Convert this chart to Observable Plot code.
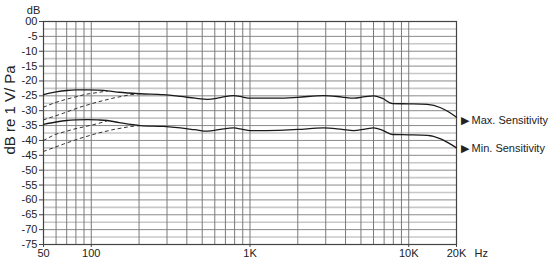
<!DOCTYPE html>
<html>
<head>
<meta charset="utf-8">
<script src="https://cdn.jsdelivr.net/npm/d3@7"></script>
<script src="https://cdn.jsdelivr.net/npm/@observablehq/plot@0.6"></script>
<style>
  html, body { margin: 0; padding: 0; background: #fff; }
  #chart svg { display: block; }
</style>
</head>
<body>
<div id="chart"></div>
<script>
// Frequencies (Hz) of the traced response points
const freqs = [50, 60, 70, 80, 95, 110, 126, 150, 204, 285, 365, 450, 540, 650, 787, 900, 1000, 1500, 2000, 2900, 3800, 4500, 5300, 6000, 6800, 7900, 10000, 13100, 15900, 18000, 20000];
// Max. sensitivity response (dB re 1 V/Pa)
const maxDb = [-24.6, -23.7, -23.2, -23.0, -23.0, -23.1, -23.3, -23.8, -24.3, -24.6, -25.2, -25.8, -26.2, -25.6, -24.9, -25.4, -25.8, -25.8, -25.5, -24.9, -25.4, -25.8, -25.3, -25.0, -25.8, -27.6, -27.7, -27.9, -29.0, -30.5, -32.2];
// Min. sensitivity response
const minDb = [-34.6, -33.8, -33.3, -33.1, -33.0, -33.1, -33.3, -34.0, -35.0, -35.3, -35.8, -36.4, -36.9, -36.3, -35.8, -36.3, -36.7, -36.6, -36.3, -35.8, -36.3, -36.7, -36.2, -35.8, -36.5, -38.0, -38.1, -38.3, -39.5, -41.0, -42.5];

// Low-cut (dashed) branches
const cut1Hz = [50, 59, 69, 92, 109, 126];
const cut1Db = [-28.8, -27.3, -26.2, -24.5, -23.9, -23.4];
const cut2Hz = [50, 67, 85, 109, 139, 177, 204];
const cut2Db = [-33.1, -30.8, -28.8, -27.1, -25.7, -24.6, -24.3];
const cut3Hz = [50, 59, 79, 109, 126];
const cut3Db = [-40.0, -38.0, -36.1, -34.4, -33.4];
const cut4Hz = [50, 67, 85, 109, 139, 177, 204];
const cut4Db = [-43.7, -41.2, -39.3, -37.6, -36.3, -35.3, -35.0];

// Axes
const xTickValues = [50, 100, 1000, 10000, 20000];
const xTickLabels = ["50", "100", "1K", "10K", "20K"];
const yTickValues = [0, -5, -10, -15, -20, -25, -30, -35, -40, -45, -50, -55, -60, -65, -70, -75];
const yTickLabels = ["00", "-5", "-10", "-15", "-20", "-25", "-30", "-35", "-40", "-45", "-50", "-55", "-60", "-65", "-70", "-75"];
const xGrid = [60, 70, 80, 90, 100, 200, 300, 400, 500, 600, 700, 800, 900, 1000, 2000, 3000, 4000, 5000, 6000, 7000, 8000, 9000, 10000];
const yHalfGrid = [-2.5, -7.5, -12.5, -17.5, -22.5, -27.5, -32.5, -37.5, -42.5, -47.5, -52.5, -57.5, -62.5, -67.5, -72.5];

// Series labels on the right
const seriesLabels = ["Max. Sensitivity", "Min. Sensitivity"];
const labelDb = [-33.3, -42.8];

const solidMax = freqs.map((f, i) => ({f, db: maxDb[i]}));
const solidMin = freqs.map((f, i) => ({f, db: minDb[i]}));
const mk = (hz, db) => hz.map((f, i) => ({f, db: db[i]}));
const dashed = [mk(cut1Hz, cut1Db), mk(cut2Hz, cut2Db), mk(cut3Hz, cut3Db), mk(cut4Hz, cut4Db)];
const xTicks = xTickValues.map((v, i) => ({v, t: xTickLabels[i]}));
const yLab = new Map(yTickValues.map((v, i) => [v, yTickLabels[i]]));
const labels = seriesLabels.map((t, i) => ({t: "\u25B6 " + t, db: labelDb[i], f: 20000}));

const chart = Plot.plot({
  width: 550,
  height: 268,
  marginLeft: 43,
  marginRight: 94,
  marginTop: 21,
  marginBottom: 24,
  style: {fontFamily: "'Liberation Sans', Arial, sans-serif", fontSize: "11px", color: "#222", background: "#fff"},
  x: {type: "log", domain: [50, 20000]},
  y: {domain: [-75, 0]},
  marks: [
    Plot.ruleY(yHalfGrid, {stroke: "#c8c8c8", strokeWidth: 1.6}),
    Plot.ruleY(yTickValues, {stroke: "#8a8a8a", strokeWidth: 1}),
    Plot.ruleX(xGrid, {stroke: "#7a7a7a", strokeWidth: 1}),
    Plot.frame({stroke: "#444", strokeWidth: 1.2}),
    ...dashed.map(d => Plot.line(d, {x: "f", y: "db", stroke: "#333", strokeWidth: 1, strokeDasharray: "3,3.5"})),
    Plot.line(solidMax, {x: "f", y: "db", stroke: "#1a1a1a", strokeWidth: 1.3, curve: "monotone-x"}),
    Plot.line(solidMin, {x: "f", y: "db", stroke: "#1a1a1a", strokeWidth: 1.3, curve: "monotone-x"}),
    Plot.axisX({ticks: xTickValues, tickFormat: () => "", tickSize: 3, label: null, stroke: "#444"}),
    Plot.text(xTicks, {x: "v", text: "t", frameAnchor: "bottom", dy: 12, fontSize: 11}),
    Plot.axisY({ticks: yTickValues, tickFormat: d => yLab.get(d), tickSize: 4, tickPadding: 2, label: null, stroke: "#444"}),
    Plot.text(["dB"], {frameAnchor: "top-left", textAnchor: "middle", dx: -10, dy: -15, fontSize: 11}),
    Plot.text(["dB re 1 V/ Pa"], {frameAnchor: "left", textAnchor: "middle", dx: -33, dy: -23, rotate: -90, fontSize: 15}),
    Plot.text(["Hz"], {frameAnchor: "bottom-right", dx: 18, dy: 12, textAnchor: "start", fontSize: 11}),
    Plot.text(labels, {x: "f", y: "db", text: "t", dx: 4, textAnchor: "start", fontSize: 11})
  ]
});
document.getElementById("chart").appendChild(chart);
</script>
</body>
</html>
